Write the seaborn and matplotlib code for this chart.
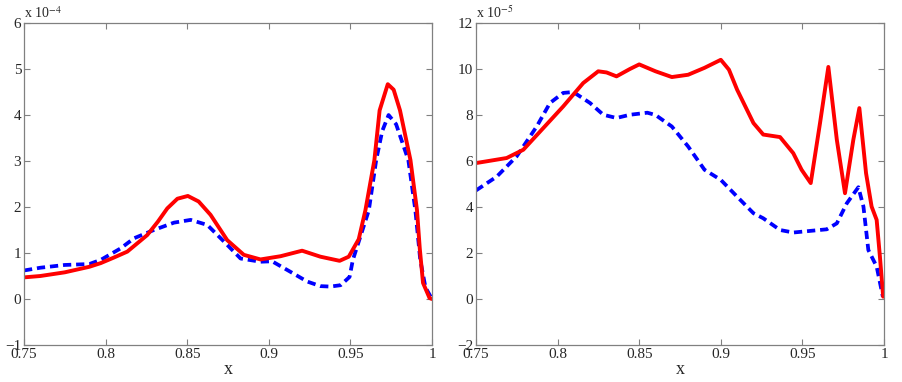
import matplotlib
matplotlib.use("Agg")
import matplotlib.pyplot as plt
import seaborn as sns

# left panel, values in units of 1e-4
left_x_red = [0.75, 0.76, 0.775, 0.79, 0.797, 0.805, 0.8133, 0.8255, 0.832, 0.8378,
              0.844, 0.8504, 0.857, 0.8643, 0.8745, 0.8847, 0.8949, 0.9072, 0.9204,
              0.9316, 0.9434, 0.949, 0.9551, 0.9592, 0.9647, 0.9679, 0.9729, 0.9765,
              0.9804, 0.9868, 0.9908, 0.9925, 0.9945, 0.9985, 1.0]
left_red = [0.47, 0.50, 0.58, 0.70, 0.78, 0.90, 1.03, 1.39, 1.68, 1.97,
            2.18, 2.24, 2.12, 1.83, 1.28, 0.96, 0.86, 0.93, 1.05,
            0.92, 0.83, 0.92, 1.30, 1.93, 3.02, 4.10, 4.67, 4.55,
            4.10, 3.02, 1.93, 1.10, 0.35, 0.02, 0.0]
left_x_blue = [0.75, 0.76, 0.775, 0.79, 0.797, 0.8092, 0.8174, 0.8296, 0.8419, 0.8521,
               0.8623, 0.8725, 0.8827, 0.8949, 0.902, 0.9133, 0.9235, 0.9316, 0.9377,
               0.944, 0.9495, 0.9515, 0.9565, 0.9613, 0.9658, 0.9695, 0.9734, 0.978,
               0.9855, 0.9898, 0.9928, 0.996, 1.0]
left_blue = [0.62, 0.68, 0.74, 0.76, 0.85, 1.10, 1.32, 1.50, 1.66, 1.72,
             1.61, 1.25, 0.88, 0.81, 0.82, 0.59, 0.38, 0.28, 0.27,
             0.30, 0.48, 0.85, 1.40, 1.93, 3.02, 3.65, 4.00, 3.80,
             3.02, 1.93, 0.85, 0.25, 0.0]

# right panel, values in units of 1e-5
right_x_red = [0.75, 0.7688, 0.779, 0.7912, 0.8034, 0.8157, 0.8249, 0.83, 0.8361,
               0.8443, 0.85, 0.86, 0.87, 0.88, 0.89, 0.9, 0.905, 0.91, 0.92, 0.926,
               0.9363, 0.9444, 0.9495, 0.9551, 0.9608, 0.9659, 0.9711, 0.9761,
               0.9812, 0.9849, 0.989, 0.9924, 0.9955, 0.9975, 0.9995]
right_red = [5.91, 6.13, 6.49, 7.43, 8.37, 9.39, 9.90, 9.85, 9.68,
             10.00, 10.20, 9.90, 9.65, 9.75, 10.05, 10.40, 9.97, 9.10, 7.65, 7.15,
             7.04, 6.34, 5.62, 5.04, 7.65, 10.09, 6.92, 4.60,
             6.92, 8.30, 5.47, 4.02, 3.44, 1.84, 0.10]
right_x_blue = [0.75, 0.7627, 0.7749, 0.7872, 0.7953, 0.8034, 0.8096, 0.8199, 0.828,
                0.8361, 0.8443, 0.855, 0.86, 0.87, 0.88, 0.89, 0.9, 0.91, 0.92,
                0.926, 0.9363, 0.9444, 0.9649, 0.9711, 0.9772, 0.9843, 0.9874,
                0.9904, 0.9955, 0.9993]
right_blue = [4.72, 5.32, 6.20, 7.50, 8.52, 8.96, 9.00, 8.52, 8.01,
              7.87, 8.01, 8.10, 8.00, 7.50, 6.63, 5.62, 5.18, 4.45, 3.73,
              3.51, 3.00, 2.89, 3.03, 3.29, 4.16, 4.86, 4.02,
              2.13, 1.41, 0.10]

sns.set_style("ticks")
plt.rcParams["font.family"] = ["Liberation Serif", "DejaVu Serif"]
plt.rcParams["mathtext.fontset"] = "stix"

GREY = "#808080"
fig = plt.figure(figsize=(9.02, 3.82), dpi=100)
ax1 = fig.add_axes([24 / 902, 1 - 345 / 382, 408 / 902, 322 / 382])
ax2 = fig.add_axes([476 / 902, 1 - 345 / 382, 408 / 902, 322 / 382])

panels = [
    (ax1, left_x_red, left_red, left_x_blue, left_blue, (-1, 6), range(-1, 7), "x 10$^{-4}$"),
    (ax2, right_x_red, right_red, right_x_blue, right_blue, (-2, 12), range(-2, 13, 2), "x 10$^{-5}$"),
]
for ax, xr, yr, xb, yb, ylim, yticks, scale in panels:
    sns.lineplot(x=xb, y=yb, ax=ax, color="#0000ff", lw=2.7, sort=False,
                 linestyle=(0, (2.2, 1.3)))
    sns.lineplot(x=xr, y=yr, ax=ax, color="#ff0000", lw=2.8, sort=False,
                 solid_joinstyle="round", solid_capstyle="round")
    ax.set_xlim(0.75, 1.0)
    ax.set_ylim(*ylim)
    ax.set_xticks([0.75, 0.8, 0.85, 0.9, 0.95, 1.0])
    ax.set_xticklabels(["0.75", "0.8", "0.85", "0.9", "0.95", "1"])
    ax.set_yticks(list(yticks))
    ax.set_yticklabels([str(t).replace("-", "\u2212") for t in yticks])
    ax.tick_params(direction="in", length=4, width=0.8, color=GREY, labelsize=11,
                   top=True, right=True, pad=2)
    for sp in ax.spines.values():
        sp.set_visible(True)
        sp.set_color(GREY)
        sp.set_linewidth(0.9)
    ax.set_xlabel("x", fontsize=13, labelpad=0)
    ax.set_ylabel("")
    ax.text(0.0, 1.005, scale, transform=ax.transAxes, fontsize=10,
            ha="left", va="bottom")

fig.savefig("out.png", dpi=100)
